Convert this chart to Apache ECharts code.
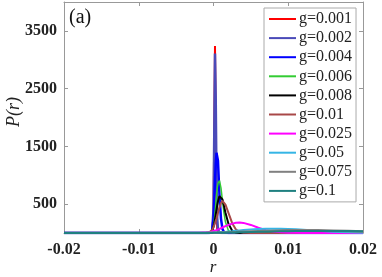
<!DOCTYPE html>
<html><head><meta charset="utf-8">
<script src="https://cdn.jsdelivr.net/npm/echarts@6/dist/echarts.min.js"></script>
<style>html,body{margin:0;padding:0;background:#fff}#c{width:382px;height:277px}</style>
</head><body><div id="c"></div>
<script>
const rGrid = [-0.02,-0.01,-0.002,-0.001,-0.0006,-0.0004,-0.0002,0,0.0001,0.0002,0.0003,0.0004,0.0005,0.0006,0.0008,0.001,0.0012,0.0014,0.0016,0.002,0.0025,0.003,0.0035,0.004,0.005,0.006,0.007,0.008,0.009,0.01,0.011,0.012,0.014,0.016,0.018,0.02];
const seriesNames = ['g=0.001','g=0.002','g=0.004','g=0.006','g=0.008','g=0.01','g=0.025','g=0.05','g=0.075','g=0.1'];
const g0001 = [0,0,0,0,0,0,5,300,1800,3240,1900,400,60,10,0,0,0,0,0,0,0,0,0,0,0,0,0,0,0,0,0,0,0,0,0,0];
const g0002 = [0,0,0,0,0,0,10,400,1700,3110,2300,900,250,60,5,0,0,0,0,0,0,0,0,0,0,0,0,0,0,0,0,0,0,0,0,0];
const g0004 = [0,0,0,0,0,0,20,250,550,900,1200,1390,1420,1250,650,250,70,15,3,0,0,0,0,0,0,0,0,0,0,0,0,0,0,0,0,0];
const g0006 = [0,0,0,0,0,2,20,120,220,350,500,650,780,860,905,780,560,350,190,40,5,0,0,0,0,0,0,0,0,0,0,0,0,0,0,0];
const g0008 = [0,0,0,0,2,8,30,110,170,240,320,400,480,550,640,655,580,470,350,160,40,8,1,0,0,0,0,0,0,0,0,0,0,0,0,0];
const g0010 = [0,0,0,2,10,25,50,100,130,170,210,250,300,350,440,520,555,540,490,350,170,60,20,5,0,0,0,0,0,0,0,0,0,0,0,0];
const g0025 = [0,0,1,8,15,20,25,35,38,42,46,50,55,60,70,82,95,108,120,140,162,177,180,175,140,90,50,25,12,6,3,2,1,0,0,0];
const g0050 = [0,0,1,3,4,5,6,8,8,9,9,10,10,11,12,15,16,18,19,25,31,38,44,50,60,68,73,75,74,70,63,55,38,22,12,6];
const g0075 = [0,0,1,2,3,3,4,5,5,5,6,6,6,7,7,8,9,9,10,12,15,17,20,22,27,32,36,40,43,46,47,48,46,40,33,26];
const g0100 = [0,0,1,1,2,2,2,3,3,3,3,4,4,4,4,5,5,6,6,8,10,11,13,14,17,20,23,26,29,31,33,34,36,36,34,31];
const xTicks = [-0.02,-0.01,0,0.01,0.02];
const yTicks = [500,1500,2500,3500];

const values = [g0001,g0002,g0004,g0006,g0008,g0010,g0025,g0050,g0075,g0100];
const colors = ['#ff0000','#4a4ab8','#0000ff','#33cc33','#000000','#a84848','#ff00ff','#35b5e5','#808080','#1f8080'];
const widths = [2,2.5,2.5,1.5,2,2,2,2,2.5,2];

const axisCol = '#999';
const serif = '"Times New Roman", "Liberation Serif", Times, serif';
const chart = echarts.init(document.getElementById('c'));
const xBase = {type:'value',min:-0.02,max:0.02,interval:0.01,
  axisLine:{show:true,onZero:false,lineStyle:{color:axisCol,width:1}},
  axisTick:{show:true,inside:true,length:4,lineStyle:{color:axisCol}},
  splitLine:{show:false}};
const yBase = {type:'value',min:0,max:4000,
  axisLine:{show:true,onZero:false,lineStyle:{color:axisCol,width:1}},
  axisTick:{show:true,inside:true,length:4,customValues:yTicks,lineStyle:{color:axisCol}},
  splitLine:{show:false}};
chart.setOption({
  animation:false,
  grid:{left:64,right:19,top:2,bottom:44},
  xAxis:[
    Object.assign({},xBase,{position:'bottom',
      axisLabel:{show:true,margin:9,color:'#222',fontFamily:serif,fontWeight:'bold',fontSize:16,
        customValues:xTicks,formatter:v=>String(Math.round(v*100)/100)}}),
    Object.assign({},xBase,{position:'top',axisLabel:{show:false}})
  ],
  yAxis:[
    Object.assign({},yBase,{position:'left',
      axisLabel:{show:true,margin:7,color:'#222',fontFamily:serif,fontWeight:'bold',fontSize:16,
        customValues:yTicks,formatter:v=>String(v)}}),
    Object.assign({},yBase,{position:'right',axisLabel:{show:false}})
  ],
  legend:{orient:'vertical',left:264,top:8,width:93,
    padding:[3,4,3,4],itemGap:3.1,itemWidth:27,itemHeight:16,
    borderColor:'#aaa',borderWidth:1,backgroundColor:'#fff',
    itemStyle:{opacity:0},
    textStyle:{fontFamily:serif,fontSize:16,color:'#222',padding:[0,0,0,-2]},
    data:seriesNames},
  graphic:[
    {type:'text',left:69,top:8,style:{text:'(a)',fontFamily:serif,fontSize:20,fill:'#111'}},
    {type:'text',x:14,y:112,rotation:Math.PI/2,style:{text:'P(r)',fontFamily:serif,fontStyle:'italic',fontSize:18,fill:'#222',align:'center',verticalAlign:'middle'}},
    {type:'text',x:213,y:268,style:{text:'r',fontFamily:serif,fontStyle:'italic',fontSize:17,fill:'#222',align:'center',verticalAlign:'middle'}}
  ],
  series:seriesNames.map((n,i)=>({
    name:n,type:'line',symbol:'none',smooth:false,
    data:rGrid.map((r,j)=>[r,values[i][j]]),
    lineStyle:{color:colors[i],width:widths[i]},itemStyle:{color:colors[i]},
    z:2+i
  }))
});
</script></body></html>
